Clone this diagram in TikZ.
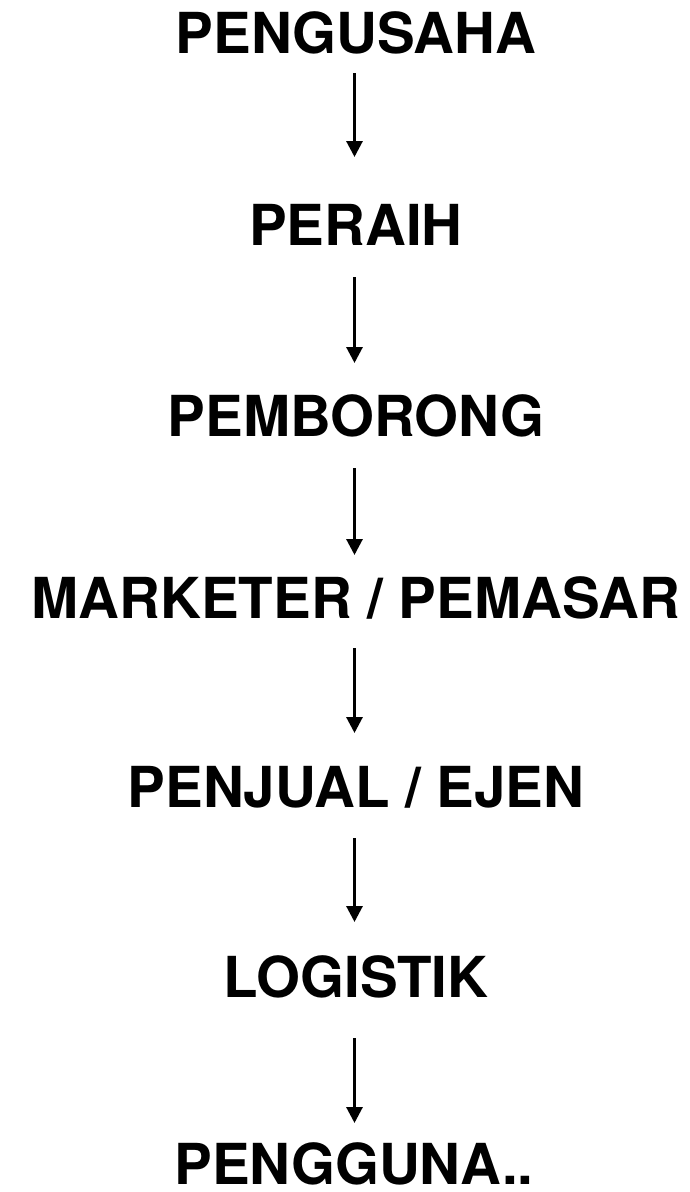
\documentclass[tikz,border=0pt]{standalone}
\usepackage{fontspec}
\setmainfont{TeX Gyre Heros}
\usetikzlibrary{arrows.meta}

\tikzset{
  langkah/.style={font=\bfseries\fontsize{56.5}{56.5}\selectfont, inner sep=0pt, text depth=0pt, anchor=base},
  panah/.style={line width=3pt, -{Triangle[width=16pt,length=16pt]}}
}

\begin{document}
\begin{tikzpicture}[x=1pt,y=-1pt]
            \useasboundingbox (0, 0) rectangle (690, 1192);
            \node[langkah] (pengusaha) at (356, 53) {PENGUSAHA};
            \node[langkah] (peraih) at (356, 245) {PERAIH};
            \node[langkah] (pemborong) at (356, 436) {PEMBORONG};
            \node[langkah] (pemasar) at (356, 618) {MARKETER / PEMASAR};
            \node[langkah] (ejen) at (356, 807) {PENJUAL / EJEN};
            \node[langkah] (logistik) at (356, 997) {LOGISTIK};
            \node[langkah] (pengguna) at (354, 1184) {PENGGUNA..};
            % anak panah antara setiap peringkat
            \draw[panah] ([xshift=-1.5pt,yshift=-20pt]pengusaha.base) -- ([xshift=-1.5pt,yshift=88pt]peraih.base);
            \draw[panah] ([xshift=-1.5pt,yshift=-32pt]peraih.base) -- ([xshift=-1.5pt,yshift=73pt]pemborong.base);
            \draw[panah] ([xshift=-1.5pt,yshift=-32pt]pemborong.base) -- ([xshift=-1.5pt,yshift=63pt]pemasar.base);
            \draw[panah] ([xshift=-1.5pt,yshift=-30pt]pemasar.base) -- ([xshift=-1.5pt,yshift=74pt]ejen.base);
            \draw[panah] ([xshift=-1.5pt,yshift=-31pt]ejen.base) -- ([xshift=-1.5pt,yshift=75pt]logistik.base);
            \draw[panah] ([xshift=-1.5pt,yshift=-41pt]logistik.base) -- ([xshift=0.5pt,yshift=61pt]pengguna.base);
        \end{tikzpicture}
\end{document}
